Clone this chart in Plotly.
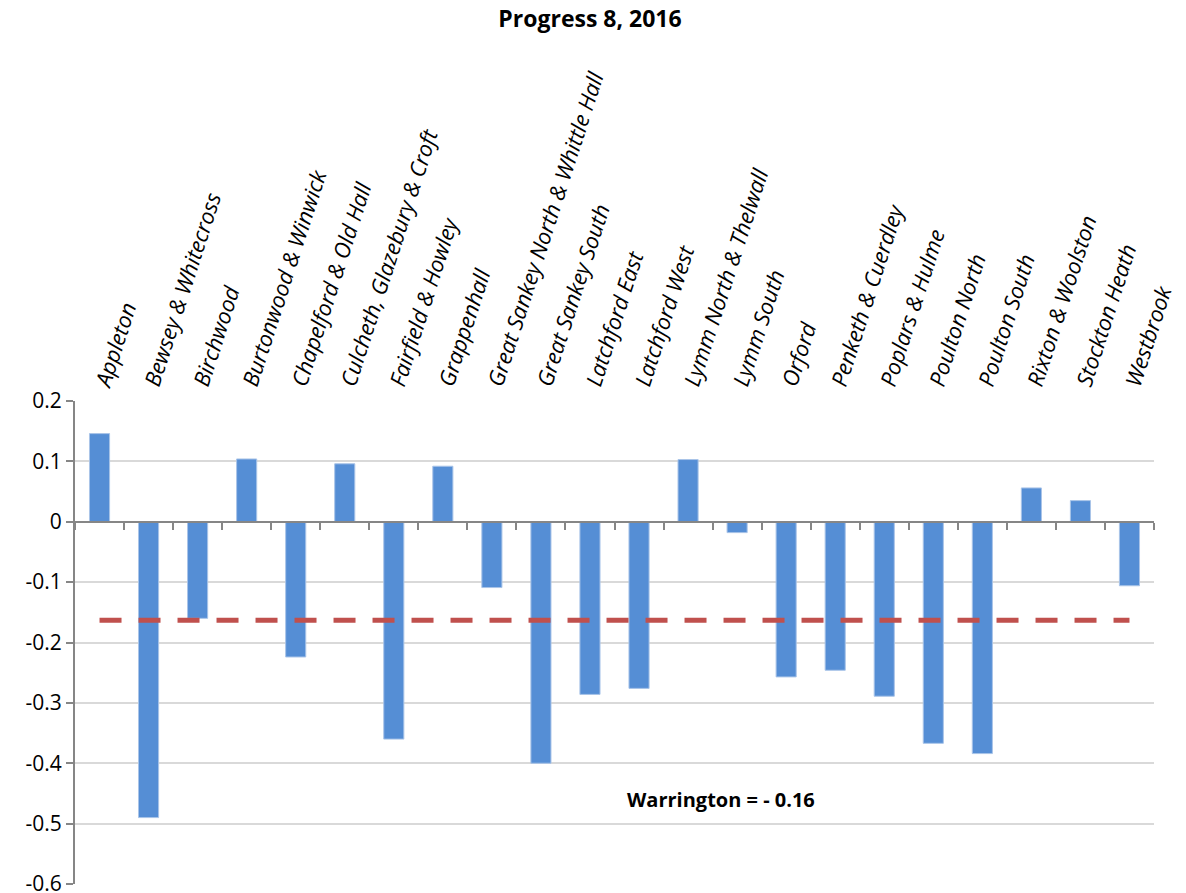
import plotly.graph_objects as go

wards = ["Appleton", "Bewsey & Whitecross", "Birchwood", "Burtonwood & Winwick",
         "Chapelford & Old Hall", "Culcheth, Glazebury & Croft", "Fairfield & Howley",
         "Grappenhall", "Great Sankey North & Whittle Hall", "Great Sankey South",
         "Latchford East", "Latchford West", "Lymm North & Thelwall", "Lymm South",
         "Orford", "Penketh & Cuerdley", "Poplars & Hulme", "Poulton North",
         "Poulton South", "Rixton & Woolston", "Stockton Heath", "Westbrook"]
progress8 = [0.146, -0.490, -0.160, 0.104, -0.224, 0.096, -0.360, 0.092, -0.109, -0.400,
             -0.286, -0.276, 0.103, -0.018, -0.257, -0.246, -0.289, -0.367, -0.384,
             0.056, 0.035, -0.106]
warrington = -0.163
warrington_label = "Warrington = - 0.16"
y_tick_vals = [0.2, 0.1, 0, -0.1, -0.2, -0.3, -0.4, -0.5, -0.6]
y_tick_text = ["0.2", "0.1", "0", "-0.1", "-0.2", "-0.3", "-0.4", "-0.5", "-0.6"]

fig = go.Figure()
fig.add_trace(go.Bar(
    x=wards, y=progress8, xaxis="x", yaxis="y",
    marker=dict(color="#558ED5", line=dict(color="#A9C4E8", width=1)),
    showlegend=False,
))
fig.add_trace(go.Scatter(
    x=wards, y=[warrington] * len(wards), xaxis="x2", yaxis="y",
    mode="lines", line=dict(color="#C0504D", width=5, dash="22px,17px"),
    showlegend=False,
))

fig.add_annotation(
    x=12.67, y=-0.46, xref="x", yref="y", text="<b>" + warrington_label + "</b>",
    showarrow=False, font=dict(family="Open Sans", size=20, color="#000000"),
)

fig.update_layout(
    width=1186, height=893,
    margin=dict(l=75, r=32, t=401, b=9, autoexpand=False),
    paper_bgcolor="white", plot_bgcolor="white",
    bargap=0.59,
    title=dict(text="<b>Progress 8, 2016</b>", x=590 / 1186, xanchor="center",
               y=1 - 19 / 893, yanchor="middle",
               font=dict(family="Open Sans", size=23, color="#000000")),
    xaxis=dict(type="category", categoryorder="array", categoryarray=wards,
               side="top", tickangle=-72, showline=False, showgrid=False, ticks="",
               tickfont=dict(family="Open Sans", size=22, color="#000000", style="italic"),
               ticklabelstandoff=0, range=[-0.5, 21.5]),
    xaxis2=dict(type="category", categoryorder="array", categoryarray=wards,
                overlaying="x", anchor="free", position=0.75, side="bottom",
                showline=True, linecolor="#868686", linewidth=2,
                ticks="outside", tickson="boundaries", ticklen=7, tickcolor="#868686",
                tickwidth=2, showticklabels=False, showgrid=False, range=[-0.5, 21.5]),
    yaxis=dict(range=[-0.6, 0.2], tickvals=y_tick_vals, ticktext=y_tick_text,
               showgrid=True, gridcolor="#D9D9D9", gridwidth=2,
               showline=True, linecolor="#868686", linewidth=2,
               ticks="outside", ticklen=7, tickcolor="#868686", tickwidth=2,
               zeroline=False, ticklabeloverflow="allow",
               tickfont=dict(family="Open Sans", size=21, color="#000000")),
)

fig.write_html("out.html", config={"displayModeBar": False},
               post_script="document.body.style.margin='0';document.body.style.overflow='hidden';")
